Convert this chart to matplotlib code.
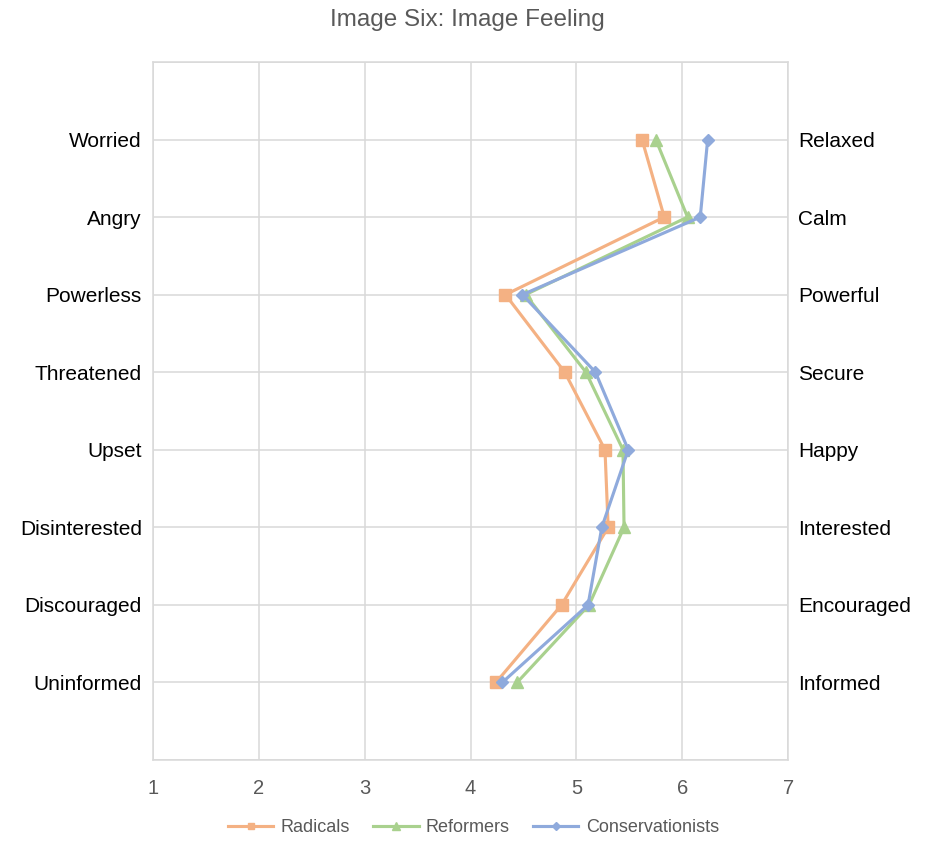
import matplotlib
matplotlib.use('Agg')
import matplotlib.pyplot as plt

plt.rcParams['font.family'] = ['Liberation Sans', 'DejaVu Sans']

# bipolar feeling scales, listed bottom to top
left_labels = ['Uninformed', 'Discouraged', 'Disinterested', 'Upset',
               'Threatened', 'Powerless', 'Angry', 'Worried']
right_labels = ['Informed', 'Encouraged', 'Interested', 'Happy',
                'Secure', 'Powerful', 'Calm', 'Relaxed']
rows = [1, 2, 3, 4, 5, 6, 7, 8]

radicals = [4.24, 4.86, 5.30, 5.27, 4.89, 4.33, 5.83, 5.62]
reformers = [4.44, 5.12, 5.45, 5.44, 5.09, 4.52, 6.05, 5.75]
conservationists = [4.30, 5.11, 5.24, 5.49, 5.18, 4.49, 6.17, 6.24]

grey = '#595959'
grid_c = '#D9D9D9'

fig = plt.figure(figsize=(9.34, 8.41), dpi=100)
ax = fig.add_axes([0.1638, 0.0963, 0.68, 0.83])

ax.plot(radicals, rows, color='#F4B183', lw=2.25, marker='s', ms=8,
        label='Radicals', zorder=3)
ax.plot(reformers, rows, color='#A9D18E', lw=2.25, marker='^', ms=8.5,
        label='Reformers', zorder=4)
ax.plot(conservationists, rows, color='#8FAADC', lw=2.25, marker='D', ms=6.5,
        label='Conservationists', zorder=5)

ax.set_xlim(1, 7)
ax.set_ylim(0, 9)
ax.set_xticks(range(1, 8))
ax.set_yticks(list(range(0, 10)))
ax.set_yticklabels([''] + left_labels + [''])
ax.grid(True, color=grid_c, lw=1.1, zorder=0)
ax.set_axisbelow(True)
for s in ax.spines.values():
    s.set_color(grid_c)
    s.set_linewidth(1.1)
ax.tick_params(axis='both', length=0)
ax.tick_params(axis='x', labelsize=14.5, labelcolor=grey, pad=14)
ax.tick_params(axis='y', labelsize=15, labelcolor='black', pad=8)

# right-hand labels share the same rows
ax2 = ax.twinx()
ax2.set_ylim(0, 9)
ax2.set_yticks(list(range(0, 10)))
ax2.set_yticklabels([''] + right_labels + [''])
ax2.tick_params(axis='y', length=0, labelsize=15, labelcolor='black', pad=7)
for s in ax2.spines.values():
    s.set_visible(False)

fig.suptitle('Image Six: Image Feeling', y=0.976, fontsize=17.5, color=grey,
             va='center')

fig.legend(loc='center', bbox_to_anchor=(0.507, 0.016), ncol=3, frameon=False,
           fontsize=13, labelcolor=grey, handlelength=2.5, columnspacing=1.3,
           handletextpad=0.4, markerscale=0.6)

fig.savefig('out.png', dpi=100)
